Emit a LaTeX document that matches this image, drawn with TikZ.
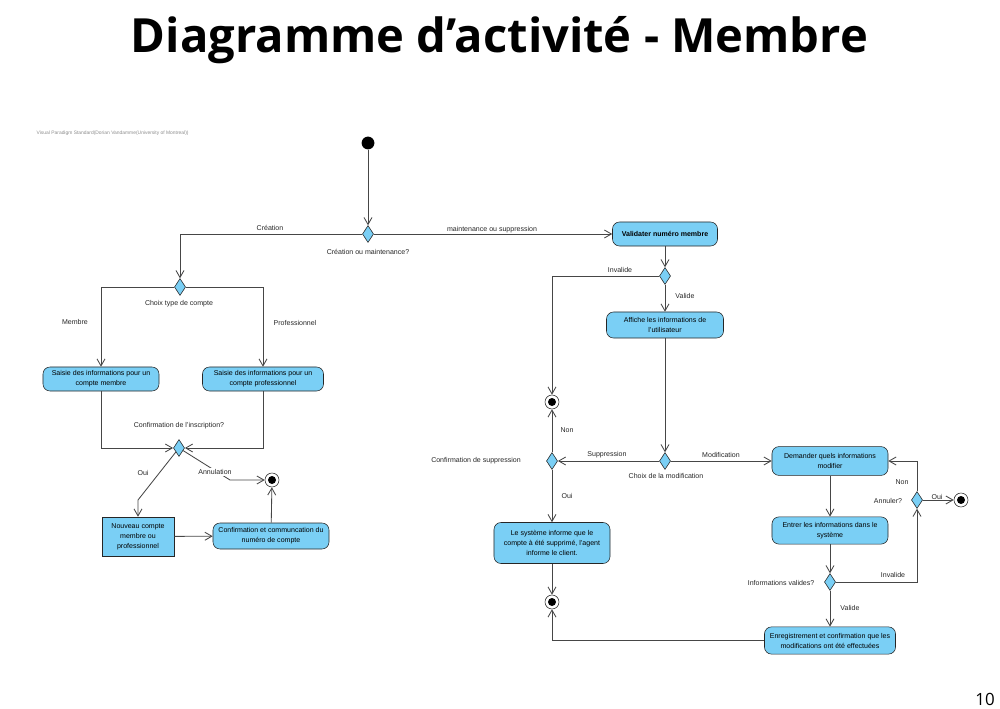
\documentclass[tikz,border=0pt]{standalone}
\usepackage{fontspec}
\setmainfont{Liberation Sans}
\newfontfamily\titlefont{Open Sans}
\usetikzlibrary{shapes.geometric, arrows.meta, positioning, calc}
\definecolor{actblue}{RGB}{122,207,245}
\definecolor{edgegray}{RGB}{70,70,70}

\begin{document}
\begin{tikzpicture}[
    x=0.025cm, y=-0.025cm,
    activity/.style={rectangle, rounded corners=5pt, draw=black!85, fill=actblue, align=center, inner sep=1pt, font=\fontsize{5}{7.1}\selectfont},
    objbox/.style={rectangle, draw=black!85, fill=actblue, align=center, inner sep=1pt, font=\fontsize{5}{7.1}\selectfont},
    decision/.style={diamond, draw=black!85, fill=actblue, minimum width=0.28cm, minimum height=0.42cm, inner sep=0pt},
    initial/.style={circle, fill=black, minimum size=0.32cm, inner sep=0pt},
    final/.style={circle, draw=black!85, fill=white, minimum size=0.35cm, inner sep=0pt, path picture={\fill[black] (path picture bounding box.center) circle (0.1cm);}},
    guard/.style={font=\fontsize{5}{6}\selectfont, text=black!85, inner sep=1pt},
    flow/.style={draw=edgegray, line width=0.6pt, -{Straight Barb[length=1.75mm, width=2mm]}}
]
\useasboundingbox (0,0) rectangle (1000,709);

\node[font=\titlefont\bfseries\fontsize{33.5}{40}\selectfont, anchor=base] (title) at (499.5,53) {Diagramme d’activité - Membre};
\node[font=\titlefont\fontsize{12}{14}\selectfont, anchor=base] (pagenum) at (985,705) {10};
\node[guard, text=black!45, font=\fontsize{3.5}{4}\selectfont, anchor=west] (vpnote) at (35,133) {Visual Paradigm Standard(Dorian Vandamme(University of Montreal))};

% creation side
\node[initial] (start) at (368,143) {};
\node[decision] (dcreation) at (368,234) {};
\node[decision] (dtype) at (180,287) {};
\node[activity, minimum width=2.9cm, minimum height=0.6cm] (saisiemembre) at (101,379) {Saisie des informations pour un\\compte membre};
\node[activity, minimum width=3.025cm, minimum height=0.6cm] (saisiepro) at (263,379) {Saisie des informations pour un\\compte professionnel};
\node[decision] (dinscr) at (179,448) {};
\node[objbox, minimum width=1.8cm, minimum height=0.975cm] (nouveau) at (138,536.5) {Nouveau compte\\membre ou\\professionnel};
\node[activity, minimum width=2.9cm, minimum height=0.65cm] (confnum) at (271,536) {Confirmation et communcation du\\numéro de compte};
\node[final] (fin1) at (272,480) {};
\coordinate (ouibend) at (138,500);
\coordinate (annbend) at (230,480);

% maintenance side
\node[activity, font=\fontsize{5}{7.1}\selectfont\bfseries, minimum width=2.625cm, minimum height=0.6cm] (validater) at (665,234) {Validater numéro membre};
\node[decision] (dvalid) at (665,276) {};
\node[activity, minimum width=2.925cm, minimum height=0.65cm] (affiche) at (665,325) {Affiche les informations de\\l'utilisateur};
\node[decision] (dchoix) at (665,461) {};
\node[decision] (dsupp) at (552,461) {};
\node[final] (fin2) at (552,402) {};
\node[activity, minimum width=2.9cm, minimum height=1.025cm] (systeme) at (552,543) {Le système informe que le\\compte à été supprimé, l'agent\\informe le client.};
\node[final] (fin3) at (552,602) {};
\node[activity, minimum width=2.9cm, minimum height=0.72cm] (demander) at (830,461) {Demander quels informations\\modifier};
\node[activity, minimum width=2.9cm, minimum height=0.68cm] (entrer) at (830,530.5) {Entrer les informations dans le\\système};
\node[decision] (dinfo) at (830,582) {};
\node[activity, minimum width=3.275cm, minimum height=0.68cm] (enreg) at (830,640.5) {Enregistrement et confirmation que les\\modifications ont été effectuées};
\node[decision] (dannul) at (917,500) {};
\node[final] (fin4) at (961,500) {};

\draw[flow] (start) -- (dcreation);
\draw[flow] (dcreation) -| (dtype);
\draw[flow] (dcreation) -- (validater);
\draw[flow] (dtype) -| (saisiemembre);
\draw[flow] (dtype) -| (saisiepro);
\draw[flow] (saisiemembre) |- (dinscr);
\draw[flow] (saisiepro) |- (dinscr);
\draw[flow] (dinscr) -- (ouibend) -- (nouveau);
\draw[flow] (dinscr) -- (annbend) -- (fin1);
\draw[flow] (nouveau) -- (confnum);
\draw[flow] (confnum) -- (fin1);
\draw[flow] (validater) -- (dvalid);
\draw[flow] (dvalid) -| (fin2);
\draw[flow] (dvalid) -- (affiche);
\draw[flow] (affiche) -- (dchoix);
\draw[flow] (dchoix) -- (dsupp);
\draw[flow] (dchoix) -- (demander);
\draw[flow] (dsupp) -- (fin2);
\draw[flow] (dsupp) -- (systeme);
\draw[flow] (systeme) -- (fin3);
\draw[flow] (enreg) -| (fin3);
\draw[flow] (demander) -- (entrer);
\draw[flow] (entrer) -- (dinfo);
\draw[flow] (dinfo) -- (enreg);
\draw[flow] (dinfo) -| (dannul);
\draw[flow] (dannul) |- (demander);
\draw[flow] (dannul) -- (fin4);

% guards and decision names
\node[guard] (lcreation) at (270,228) {Création};
\node[guard] (lmaint) at (492,230) {maintenance ou suppression};
\node[guard] (lcreamaint) at (368,252) {Création ou maintenance?};
\node[guard] (ltype) at (179,304) {Choix type de compte};
\node[guard] (lmembre) at (75,322) {Membre};
\node[guard] (lpro) at (295,323) {Professionnel};
\node[guard] (linscr) at (179,426) {Confirmation de l'inscription?};
\node[guard] (loui1) at (143,473) {Oui};
\node[guard, fill=white] (lannul) at (215,472) {Annulation};
\node[guard] (linval1) at (620,270) {Invalide};
\node[guard] (lvalid1) at (685,296) {Valide};
\node[guard] (lsupp) at (607,455) {Suppression};
\node[guard] (lmodif) at (721,455) {Modification};
\node[guard] (lconfsupp) at (476,461) {Confirmation de suppression};
\node[guard] (lchoix) at (666,476) {Choix de la modification};
\node[guard] (lnon1) at (567,430) {Non};
\node[guard] (loui2) at (567,496) {Oui};
\node[guard, anchor=east] (linfo) at (816,583) {Informations valides?};
\node[guard] (lvalid2) at (850,608) {Valide};
\node[guard] (linval2) at (893,575) {Invalide};
\node[guard] (lannuler) at (888,501) {Annuler?};
\node[guard] (lnon2) at (902,482) {Non};
\node[guard] (loui3) at (937,497) {Oui};
\end{tikzpicture}
\end{document}
